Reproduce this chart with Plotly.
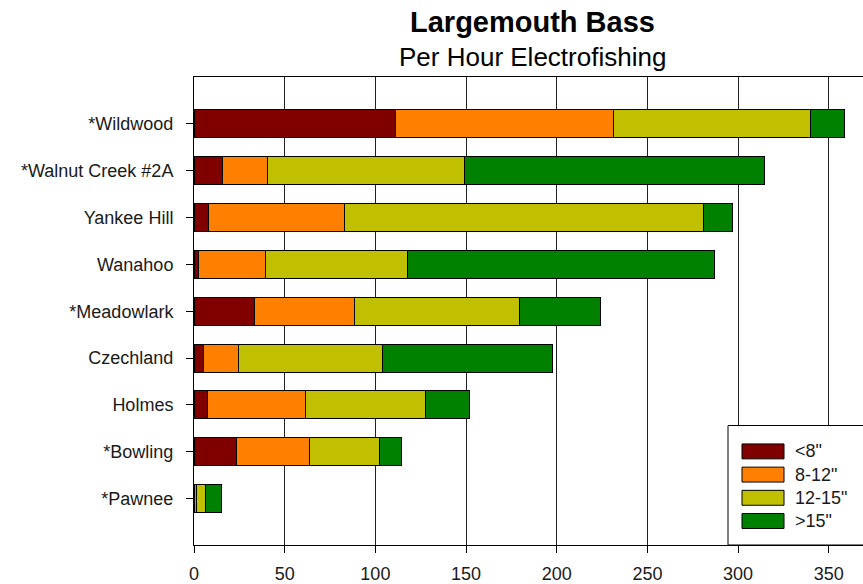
import plotly.graph_objects as go

# Data (top-to-bottom order as in the chart)
lakes = ["*Wildwood", "*Walnut Creek #2A", "Yankee Hill", "Wanahoo", "*Meadowlark",
         "Czechland", "Holmes", "*Bowling", "*Pawnee"]
series_names = ['<8"', '8-12"', '12-15"', '>15"']
lt8 = [111.2, 15.8, 7.9, 2.4, 33.5, 5.5, 7.2, 23.4, 0.4]
s8_12 = [120.0, 24.8, 75.3, 36.8, 55.2, 19.1, 54.5, 40.2, 1.2]
s12_15 = [108.8, 108.3, 197.5, 78.7, 90.8, 79.4, 66.2, 38.7, 4.6]
gt15 = [18.6, 165.7, 16.0, 169.0, 44.7, 93.5, 24.1, 12.0, 9.2]
colors = ["#800000", "#FF8000", "#C0C000", "#008000"]
x_ticks = [0, 50, 100, 150, 200, 250, 300, 350]

W, H = 863, 584
# desired plot area in page pixels
PL, PR, PT, PB = 194, 863, 77, 547
ML, MR, MT, MB = PL, W - PR, PT, H - PB
PW, PH = PR - PL, PB - PT
px_per_unit = 1.8137

def pxx(p):
    return (p - PL) / PW

def pxy(p):
    return (PB - p) / PH

fig = go.Figure()
for name, vals, col in zip(series_names, [lt8, s8_12, s12_15, gt15], colors):
    fig.add_trace(go.Bar(
        y=lakes, x=vals, name=name, orientation="h",
        marker=dict(color=col, line=dict(color="black", width=1)),
        width=0.6, showlegend=False,
    ))

font_family = "Liberation Sans, Arial, sans-serif"
fig.update_layout(
    barmode="stack",
    width=W, height=H,
    margin=dict(l=ML, r=MR, t=MT, b=MB, pad=0),
    paper_bgcolor="white", plot_bgcolor="white",
    font=dict(family=font_family, size=18, color="#1a1a1a"),
    xaxis=dict(
        range=[0, PW / px_per_unit], tickvals=x_ticks,
        showgrid=True, gridcolor="#222222", gridwidth=1,
        showline=True, linecolor="black", linewidth=1, mirror=True,
        ticks="outside", ticklen=7, tickcolor="black",
        zeroline=False, ticklabelstandoff=5,
        tickfont=dict(size=18),
    ),
    yaxis=dict(
        categoryorder="array", categoryarray=lakes[::-1],
        range=[-0.99, 9.0],
        showgrid=False, showline=True, linecolor="black", linewidth=1,
        ticks="outside", ticklen=7, tickcolor="black",
        zeroline=False, ticklabelstandoff=9,
        tickfont=dict(size=18),
    ),
)

# Titles
fig.add_annotation(text="<b>Largemouth Bass</b>", xref="paper", yref="paper",
                   x=pxx(532), y=pxy(22), showarrow=False, xanchor="center", yanchor="middle",
                   font=dict(size=29, color="black", family=font_family))
fig.add_annotation(text="Per Hour Electrofishing", xref="paper", yref="paper",
                   x=pxx(532), y=pxy(57), showarrow=False, xanchor="center", yanchor="middle",
                   font=dict(size=26, color="black", family=font_family))

# Custom legend box
fig.add_shape(type="rect", xref="paper", yref="paper",
              x0=pxx(728), x1=pxx(875), y0=pxy(547), y1=pxy(427),
              line=dict(color="black", width=1), fillcolor="white", layer="above")
for i, (name, col) in enumerate(zip(series_names, colors)):
    cy = 453 + i * 23.3
    fig.add_shape(type="rect", xref="paper", yref="paper",
                  x0=pxx(742), x1=pxx(784), y0=pxy(cy + 7.5), y1=pxy(cy - 7.5),
                  line=dict(color="black", width=1), fillcolor=col, layer="above")
    fig.add_annotation(text=name, xref="paper", yref="paper",
                       x=pxx(793), y=pxy(cy), showarrow=False, xanchor="left", yanchor="middle",
                       font=dict(size=18, color="#1a1a1a", family=font_family))

fig.write_html(
    "out.html",
    config={"displayModeBar": False},
    post_script="document.body.style.margin='0';document.body.style.overflow='hidden';",
)
